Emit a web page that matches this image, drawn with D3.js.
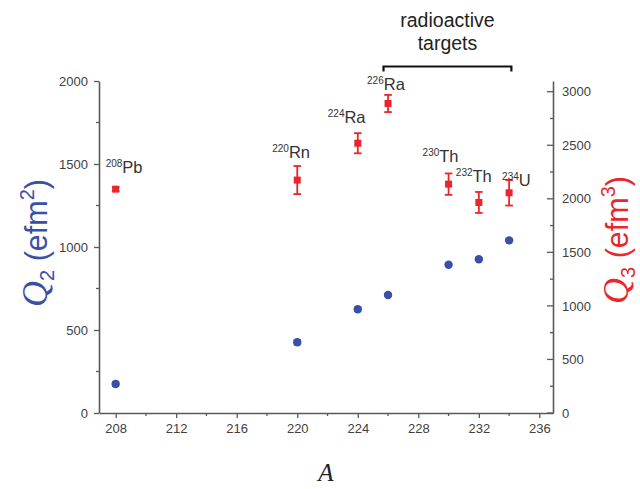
<!DOCTYPE html>
<html>
<head>
<meta charset="utf-8">
<script src="https://cdn.jsdelivr.net/npm/d3@7"></script>
<style>
  html, body { margin: 0; padding: 0; background: #fff; }
  svg { display: block; }
  text { font-family: "Liberation Sans", Arial, sans-serif; }
</style>
</head>
<body>
<svg id="chart" width="640" height="489"></svg>
<script>
// Nuclei: mass number A and element symbol
const massNumbers = [208, 220, 224, 226, 230, 232, 234];
const elements = ["Pb", "Rn", "Ra", "Ra", "Th", "Th", "U"];

// Quadrupole moments Q2 (e fm^2) with uncertainties
const q2Values = [175, 426, 625, 711, 893, 926, 1040];
const q2Errors = [14, 14, 12, 8, 8, 8, 8];

// Octupole moments Q3 (e fm^3) with uncertainties
const q3Values = [2090, 2175, 2519, 2890, 2137, 1966, 2056];
const q3Errors = [18, 131, 94, 80, 100, 98, 119];

// Axis tick values
const xTicks = [208, 212, 216, 220, 224, 228, 232, 236];
const q2Ticks = [0, 500, 1000, 1500, 2000];
const q3Ticks = [0, 500, 1000, 1500, 2000, 2500, 3000];

// Range of A covered by the "radioactive targets" bracket
const radioactiveSpan = [225.7, 234.15];

// Label placement relative to each red point (pixels)
const labelOffsets = [[-10, -16], [-25, -22], [-30, -20], [-21, -13], [-26, -22], [-23, -20], [-7, -7]];

const blue = "#3a4fa6";
const red = "#e8262c";
const axisColor = "#5a5a5a";
const tickText = "#404040";

const svg = d3.select("#chart");
const plotLeft = 99, plotRight = 553, plotTop = 81, plotBottom = 413;

const x = d3.scaleLinear().domain([206.9, 236.9]).range([plotLeft, plotRight]);
const yQ2 = d3.scaleLinear().domain([0, 2000]).range([plotBottom, plotTop]);
const yQ3 = d3.scaleLinear().domain([0, 3100]).range([plotBottom, plotTop]);
const fmt = d3.format("d");

// Bottom axis with minor ticks
const minorX = d3.range(210, 237, 4);
const xAxis = svg.append("g").attr("transform", `translate(0,${plotBottom})`);
xAxis.call(d3.axisBottom(x).tickValues(xTicks).tickFormat(fmt).tickSize(5).tickPadding(6).tickSizeOuter(0));
xAxis.selectAll(".minor").data(minorX).enter().append("line")
  .attr("x1", d => x(d)).attr("x2", d => x(d)).attr("y1", 0).attr("y2", 3);

// Left axis (Q2)
const minorQ2 = d3.range(250, 2000, 500);
const yAxisL = svg.append("g").attr("transform", `translate(${plotLeft},0)`);
yAxisL.call(d3.axisLeft(yQ2).tickValues(q2Ticks).tickFormat(fmt).tickSize(5).tickPadding(6).tickSizeOuter(0));
yAxisL.selectAll(".minor").data(minorQ2).enter().append("line")
  .attr("x1", 0).attr("x2", -3).attr("y1", d => yQ2(d)).attr("y2", d => yQ2(d));

// Right axis (Q3), ticks pointing into the plot
const minorQ3 = d3.range(250, 3000, 500);
const yAxisR = svg.append("g").attr("transform", `translate(${plotRight},0)`);
yAxisR.call(d3.axisRight(yQ3).tickValues(q3Ticks).tickFormat(fmt).tickSize(0).tickPadding(9).tickSizeOuter(0));
yAxisR.selectAll(".maj").data(q3Ticks).enter().append("line")
  .attr("x1", 0).attr("x2", -6).attr("y1", d => yQ3(d)).attr("y2", d => yQ3(d));
yAxisR.selectAll(".minor").data(minorQ3).enter().append("line")
  .attr("x1", 0).attr("x2", -3).attr("y1", d => yQ3(d)).attr("y2", d => yQ3(d));

// Axis styling
svg.selectAll(".domain").attr("stroke", axisColor).attr("stroke-width", 1.6);
svg.selectAll("g line").attr("stroke", axisColor).attr("stroke-width", 1.3);
svg.selectAll(".tick text").attr("fill", tickText).style("font-size", "13px")
  .style("font-family", "'Liberation Sans', Arial, sans-serif");

const points = massNumbers.map((a, i) => ({
  a, el: elements[i], q2: q2Values[i], q2e: q2Errors[i], q3: q3Values[i], q3e: q3Errors[i], off: labelOffsets[i]
}));

// Error bars helper
function errorBars(sel, yScale, key, errKey, color, cap, width) {
  const g = sel.append("g").attr("stroke", color).attr("stroke-width", width);
  g.selectAll(".v").data(points).enter().append("line")
    .attr("x1", d => x(d.a)).attr("x2", d => x(d.a))
    .attr("y1", d => yScale(d[key] - d[errKey])).attr("y2", d => yScale(d[key] + d[errKey]));
  g.selectAll(".t").data(points).enter().append("line")
    .attr("x1", d => x(d.a) - cap).attr("x2", d => x(d.a) + cap)
    .attr("y1", d => yScale(d[key] + d[errKey])).attr("y2", d => yScale(d[key] + d[errKey]));
  g.selectAll(".b").data(points).enter().append("line")
    .attr("x1", d => x(d.a) - cap).attr("x2", d => x(d.a) + cap)
    .attr("y1", d => yScale(d[key] - d[errKey])).attr("y2", d => yScale(d[key] - d[errKey]));
}

// Q2 series (blue circles)
errorBars(svg, yQ2, "q2", "q2e", blue, 3.5, 1.5);
svg.append("g").selectAll("circle").data(points).enter().append("circle")
  .attr("cx", d => x(d.a)).attr("cy", d => yQ2(d.q2)).attr("r", 4.2).attr("fill", blue);

// Q3 series (red squares)
errorBars(svg, yQ3, "q3", "q3e", red, 3.8, 1.8);
svg.append("g").selectAll("rect").data(points).enter().append("rect")
  .attr("x", d => x(d.a) - 3.5).attr("y", d => yQ3(d.q3) - 3.5)
  .attr("width", 7).attr("height", 7).attr("fill", red);

// Isotope labels
const labels = svg.append("g").selectAll("text").data(points).enter().append("text")
  .attr("x", d => x(d.a) + d.off[0]).attr("y", d => yQ3(d.q3) + d.off[1])
  .attr("fill", "#333").style("font-size", "16.5px");
labels.append("tspan").text(d => d.a).style("font-size", "10px").attr("dy", -6);
labels.append("tspan").text(d => d.el).attr("dy", 6);

// Radioactive targets bracket
const bracketY = 66.5;
svg.append("path")
  .attr("d", `M${x(radioactiveSpan[0])},${bracketY + 5}V${bracketY}H${x(radioactiveSpan[1])}V${bracketY + 5}`)
  .attr("fill", "none").attr("stroke", "#111").attr("stroke-width", 2.2);
const midX = (x(radioactiveSpan[0]) + x(radioactiveSpan[1])) / 2;
svg.append("text").attr("x", midX).attr("y", 27).attr("text-anchor", "middle")
  .attr("fill", "#222").style("font-size", "19.5px").text("radioactive");
svg.append("text").attr("x", midX).attr("y", 50).attr("text-anchor", "middle")
  .attr("fill", "#222").style("font-size", "19.5px").text("targets");

// X axis title
svg.append("text").attr("x", (plotLeft + plotRight) / 2).attr("y", 481).attr("text-anchor", "middle")
  .style("font-family", "'Liberation Serif', 'Times New Roman', serif").style("font-style", "italic")
  .style("font-size", "25px").attr("fill", "#222").text("A");

// Y axis titles
function yTitle(cx, cy, color, idx) {
  const t = svg.append("text").attr("transform", `translate(${cx},${cy}) rotate(-90)`)
    .attr("text-anchor", "middle").attr("fill", color).style("font-size", "30.5px");
  t.append("tspan").text("Q").style("font-family", "'Liberation Serif', 'Times New Roman', serif")
    .style("font-style", "italic").style("font-size", "36px");
  t.append("tspan").text(idx).style("font-size", "20px").attr("dy", 7);
  t.append("tspan").text(" (efm").attr("dy", -7);
  t.append("tspan").text(idx).style("font-size", "20px").attr("dy", -13);
  t.append("tspan").text(")").attr("dy", 13);
}
yTitle(47, 243, blue, "2");
yTitle(628, 240, red, "3");
</script>
</body>
</html>
